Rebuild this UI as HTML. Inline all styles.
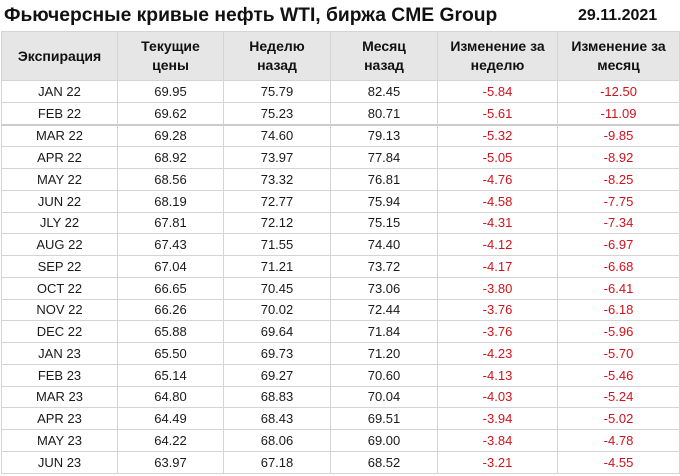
<!DOCTYPE html>
<html><head><meta charset="utf-8"><style>
body{margin:0;width:680px;height:476px;background:#fff;font-family:"Liberation Sans",Arial,sans-serif;overflow:hidden;position:relative}
.t{position:absolute;left:4px;top:5px;font-size:19.3px;font-weight:bold;color:#111}
.d{position:absolute;left:578px;top:7px;font-size:16px;font-weight:bold;color:#111}
table{position:absolute;left:1px;top:31px;border-collapse:collapse;table-layout:fixed;width:678px}
td,th{border:1px solid #d4d4d4;text-align:center;padding:0;font-size:13px;color:#1a1a1a}
th{background:#e6e6e6;font-weight:bold;height:48px;line-height:19px;font-size:14px;color:#111}
td{height:20.75px}
.r{color:#d0121b}
tr.s td{border-bottom:2px solid #ccc}
</style></head><body>
<div class="t">Фьючерсные кривые нефть WTI, биржа CME Group</div>
<div class="d">29.11.2021</div>
<table>
<colgroup><col style="width:116px"><col style="width:106px"><col style="width:107px"><col style="width:107px"><col style="width:120px"><col style="width:122px"></colgroup>
<tr><th>Экспирация</th><th>Текущие<br>цены</th><th>Неделю<br>назад</th><th>Месяц<br>назад</th><th>Изменение за<br>неделю</th><th>Изменение за<br>месяц</th></tr>
<tr><td>JAN 22</td><td>69.95</td><td>75.79</td><td>82.45</td><td class="r">-5.84</td><td class="r">-12.50</td></tr>
<tr class="s"><td>FEB 22</td><td>69.62</td><td>75.23</td><td>80.71</td><td class="r">-5.61</td><td class="r">-11.09</td></tr>
<tr><td>MAR 22</td><td>69.28</td><td>74.60</td><td>79.13</td><td class="r">-5.32</td><td class="r">-9.85</td></tr>
<tr><td>APR 22</td><td>68.92</td><td>73.97</td><td>77.84</td><td class="r">-5.05</td><td class="r">-8.92</td></tr>
<tr><td>MAY 22</td><td>68.56</td><td>73.32</td><td>76.81</td><td class="r">-4.76</td><td class="r">-8.25</td></tr>
<tr><td>JUN 22</td><td>68.19</td><td>72.77</td><td>75.94</td><td class="r">-4.58</td><td class="r">-7.75</td></tr>
<tr><td>JLY 22</td><td>67.81</td><td>72.12</td><td>75.15</td><td class="r">-4.31</td><td class="r">-7.34</td></tr>
<tr><td>AUG 22</td><td>67.43</td><td>71.55</td><td>74.40</td><td class="r">-4.12</td><td class="r">-6.97</td></tr>
<tr><td>SEP 22</td><td>67.04</td><td>71.21</td><td>73.72</td><td class="r">-4.17</td><td class="r">-6.68</td></tr>
<tr><td>OCT 22</td><td>66.65</td><td>70.45</td><td>73.06</td><td class="r">-3.80</td><td class="r">-6.41</td></tr>
<tr><td>NOV 22</td><td>66.26</td><td>70.02</td><td>72.44</td><td class="r">-3.76</td><td class="r">-6.18</td></tr>
<tr><td>DEC 22</td><td>65.88</td><td>69.64</td><td>71.84</td><td class="r">-3.76</td><td class="r">-5.96</td></tr>
<tr><td>JAN 23</td><td>65.50</td><td>69.73</td><td>71.20</td><td class="r">-4.23</td><td class="r">-5.70</td></tr>
<tr><td>FEB 23</td><td>65.14</td><td>69.27</td><td>70.60</td><td class="r">-4.13</td><td class="r">-5.46</td></tr>
<tr><td>MAR 23</td><td>64.80</td><td>68.83</td><td>70.04</td><td class="r">-4.03</td><td class="r">-5.24</td></tr>
<tr><td>APR 23</td><td>64.49</td><td>68.43</td><td>69.51</td><td class="r">-3.94</td><td class="r">-5.02</td></tr>
<tr><td>MAY 23</td><td>64.22</td><td>68.06</td><td>69.00</td><td class="r">-3.84</td><td class="r">-4.78</td></tr>
<tr><td>JUN 23</td><td>63.97</td><td>67.18</td><td>68.52</td><td class="r">-3.21</td><td class="r">-4.55</td></tr>
</table>
</body></html>
